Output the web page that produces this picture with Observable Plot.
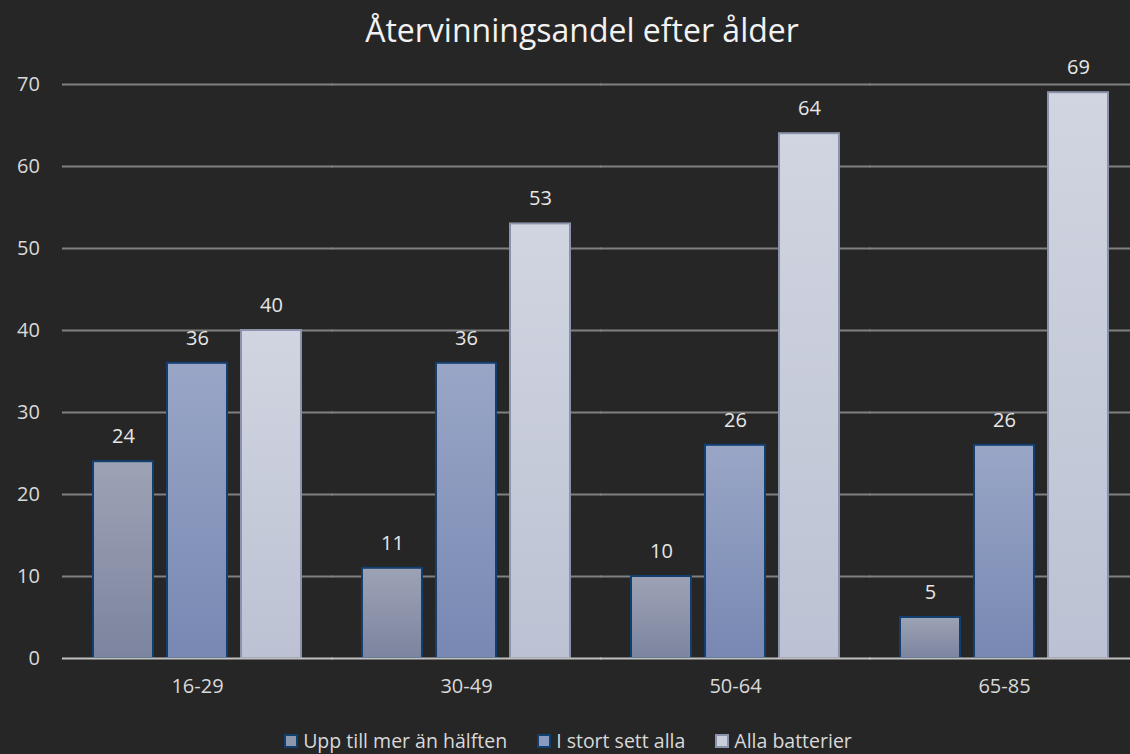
<!DOCTYPE html>
<html><head><meta charset="utf-8">
<script src="https://cdn.jsdelivr.net/npm/d3@7"></script>
<script src="https://cdn.jsdelivr.net/npm/@observablehq/plot@0.6"></script>
<style>
html,body{margin:0;padding:0;background:#262626;}
body{width:1130px;height:754px;overflow:hidden;font-family:"Open Sans",sans-serif;}
#title{height:40px;line-height:40px;padding-top:10px;text-align:center;color:#f2f2f2;font-size:32px;padding-left:34px;white-space:nowrap;}
#legend{height:44px;display:flex;justify-content:center;align-items:flex-start;padding-left:6px;}
.item{display:flex;align-items:center;margin:0 15px;padding-top:20px;line-height:22px;font-size:19.5px;color:#d9d9d9;white-space:nowrap;}
.sw{width:10px;height:10px;border:2px solid;margin-right:5px;}
</style></head><body>
<div id="title">Återvinningsandel efter ålder</div>
<div id="chart"></div>
<div id="legend"></div>
<script>
const groups = ["16-29", "30-49", "50-64", "65-85"];
const seriesNames = ["Upp till mer än hälften", "I stort sett alla", "Alla batterier"];
const uppTillMerAnHalften = [24, 11, 10, 5];
const iStortSettAlla = [36, 36, 26, 26];
const allaBatterier = [40, 53, 64, 69];
const yTicks = [0, 10, 20, 30, 40, 50, 60, 70];

const seriesValues = [uppTillMerAnHalften, iStortSettAlla, allaBatterier];
const gradTop = ["#9da3b5", "#99a6c6", "#d1d5e1"];
const gradBottom = ["#7c849f", "#7888b3", "#bcc2d3"];
const strokes = ["#123f70", "#123f70", "#8a93ab"];
const swatchFill = ["#8f97ad", "#8a99c0", "#c9cedb"];

const table = groups.flatMap((g, i) => seriesNames.map((s, j) => ({group: g, series: s, value: seriesValues[j][i]})));

const W = 1130, mL = 62, mR = -8;
const fxPadInner = 0.227, fxPadOuter = fxPadInner / 2;
const fxStep = (W - mL - mR) / groups.length;
const halfGap = fxStep * fxPadOuter; // extends gridlines across the gaps between groups

const chart = Plot.plot({
  width: W,
  height: 660,
  marginLeft: mL,
  marginRight: mR,
  marginTop: 34,
  marginBottom: 52,
  style: {background: "transparent", color: "#d9d9d9", fontFamily: "'Open Sans', sans-serif", fontSize: "20px", overflow: "hidden"},
  fx: {domain: groups, paddingInner: fxPadInner, paddingOuter: fxPadOuter, label: null},
  x: {domain: seriesNames, paddingInner: 0.19, paddingOuter: 0, axis: null},
  y: {domain: [0, 70], label: null},
  marks: [
    Plot.ruleY(yTicks.filter(d => d > 0), {stroke: "#808080", strokeWidth: 2, insetLeft: -halfGap - 0.5, insetRight: -halfGap - 1}),
    Plot.axisY(yTicks, {tickSize: 0, tickPadding: 23 + halfGap, label: null, fontSize: 20, fill: "#d9d9d9"}),
    Plot.axisFx({tickSize: 0, tickPadding: 20, label: null, fontSize: 20, fill: "#d9d9d9", anchor: "bottom"}),
    ...seriesNames.map((s, j) => Plot.barY(table.filter(d => d.series === s), {
      fx: "group", x: "series", y: "value",
      fill: `url(#grad${j})`, stroke: strokes[j], strokeWidth: 2
    })),
    Plot.text(table, {fx: "group", x: "series", y: "value", text: "value", dy: -25, fill: "#e6e6e6", fontSize: 20}),
    Plot.ruleY([0], {stroke: "#c0c0c0", strokeWidth: 2, insetLeft: -halfGap - 0.5, insetRight: -halfGap - 1})
  ]
});

const defs = d3.select(chart).insert("defs", ":first-child");
seriesNames.forEach((s, j) => {
  const lg = defs.append("linearGradient").attr("id", `grad${j}`).attr("x1", 0).attr("y1", 0).attr("x2", 0).attr("y2", 1);
  lg.append("stop").attr("offset", "0%").attr("stop-color", gradTop[j]);
  lg.append("stop").attr("offset", "100%").attr("stop-color", gradBottom[j]);
});
document.getElementById("chart").append(chart);

const legend = d3.select("#legend");
seriesNames.forEach((s, j) => {
  const it = legend.append("div").attr("class", "item");
  it.append("div").attr("class", "sw").style("background", swatchFill[j]).style("border-color", strokes[j]);
  it.append("span").text(s);
});
</script>
</body></html>
